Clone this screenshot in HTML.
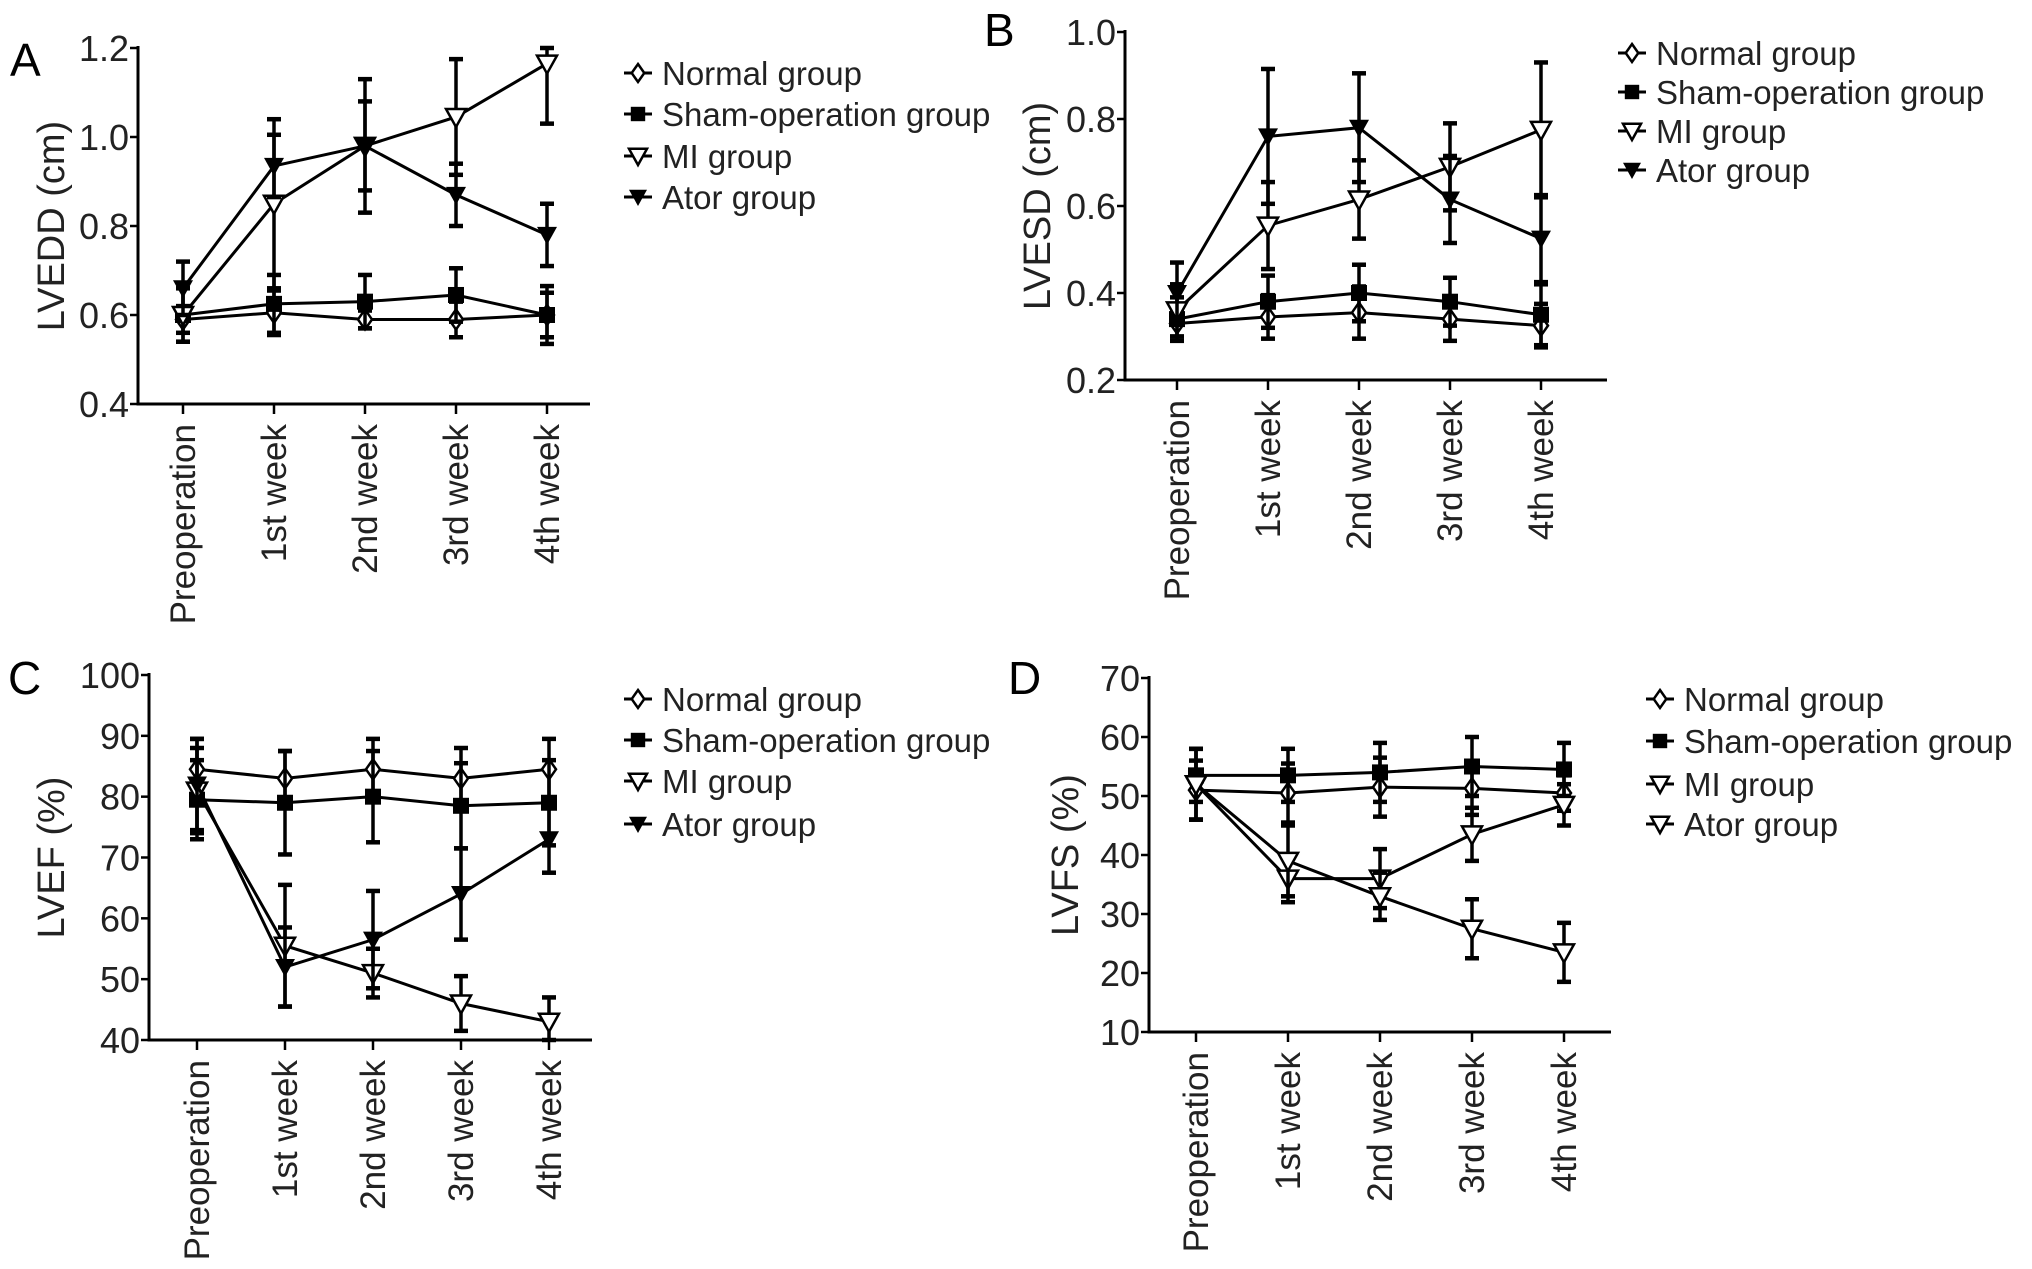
<!DOCTYPE html>
<html><head><meta charset="utf-8"><style>
html,body{margin:0;padding:0;background:#fff;}
svg{display:block;font-family:"Liberation Sans",Arial,sans-serif;}
</style></head><body>
<svg id="fig" width="2032" height="1269" viewBox="0 0 2032 1269" xmlns="http://www.w3.org/2000/svg"></svg>
<script>
const categories = ["Preoperation","1st week","2nd week","3rd week","4th week"];
const seriesNames = ["Normal group","Sham-operation group","MI group","Ator group"];
// Panel A LVEDD
const aNormal=[0.59,0.605,0.59,0.59,0.60], aNormalErr=[0.03,0.05,0.02,0.04,0.05];
const aSham=[0.60,0.625,0.63,0.645,0.60], aShamErr=[0.06,0.065,0.06,0.06,0.065];
const aMI=[0.60,0.85,0.98,1.045,1.165], aMIErr=[0.06,0.19,0.15,0.13,0.135];
const aAtor=[0.66,0.935,0.98,0.87,0.78], aAtorErr=[0.06,0.07,0.10,0.07,0.07];
const aTicks=[0.4,0.6,0.8,1.0,1.2];
// Panel B LVESD
const bNormal=[0.33,0.345,0.355,0.34,0.325], bNormalErr=[0.03,0.05,0.06,0.05,0.05];
const bSham=[0.34,0.38,0.40,0.38,0.35], bShamErr=[0.05,0.06,0.065,0.055,0.07];
const bMI=[0.36,0.555,0.615,0.69,0.775], bMIErr=[0.06,0.10,0.09,0.10,0.155];
const bAtor=[0.40,0.76,0.78,0.615,0.525], bAtorErr=[0.07,0.155,0.125,0.10,0.10];
const bTicks=[0.2,0.4,0.6,0.8,1.0];
// Panel C LVEF
const cNormal=[84.5,83,84.5,83,84.5], cNormalErr=[5,4.5,5,5,5];
const cSham=[79.5,79,80,78.5,79], cShamErr=[6.5,8.5,7.5,7,7];
const cMI=[81,55.5,51,46,43], cMIErr=[7,10,4,4.5,4];
const cAtor=[82,52,56.5,64,73], cAtorErr=[7.5,6.5,8,7.5,5.5];
const cTicks=[40,50,60,70,80,90,100];
// Panel D LVFS
const dNormal=[51,50.5,51.5,51.3,50.5], dNormalErr=[5,5,5,4.5,3];
const dSham=[53.5,53.5,54,55,54.5], dShamErr=[4.5,4.5,5,5,4.5];
const dMI=[52,36,36,43.5,48.5], dMIErr=[6,4,5,4.5,3.5];
const dAtor=[52,39,33,27.5,23.5], dAtorErr=[6,6,4,5,5];
const dTicks=[10,20,30,40,50,60,70];

const NS="http://www.w3.org/2000/svg";
const svg=document.getElementById('fig');
function el(tag,attrs,parent){const e=document.createElementNS(NS,tag);for(const k in attrs)e.setAttribute(k,attrs[k]);(parent||svg).appendChild(e);return e;}

function marker(g,type,x,y,s){
  let m;
  if(type==='diamond'){m=el('path',{d:`M${x} ${y-s}L${x+s*0.7} ${y}L${x} ${y+s}L${x-s*0.7} ${y}Z`,fill:'#fff',stroke:'#000','stroke-width':2.5},g);}
  else if(type==='square'){m=el('rect',{x:x-s*0.8,y:y-s*0.8,width:s*1.6,height:s*1.6,fill:'#000'},g);}
  else if(type==='tri-open'){m=el('path',{d:`M${x-s} ${y-s*0.8}L${x+s} ${y-s*0.8}L${x} ${y+s}Z`,fill:'#fff',stroke:'#000','stroke-width':2.5},g);}
  else {m=el('path',{d:`M${x-s} ${y-s*0.8}L${x+s} ${y-s*0.8}L${x} ${y+s}Z`,fill:'#000'},g);}
  return m;
}

function panel(cfg){
  const g=el('g',{});
  
  
  const {x0,x1,y0,y1,ymin,ymax,cats}=cfg;
  const ys=v=>y1+(v-ymin)/(ymax-ymin)*(y0-y1);
  const clampY=v=>Math.max(y0,Math.min(y1,ys(v)));
  const xs=i=>cats[0]+i*(cats[1]-cats[0]);
  const L=el('text',{x:cfg.letter[0],y:cfg.letter[1],'font-size':46,fill:'#000'},g);L.textContent=cfg.letterText;
  
  const ya=el('line',{x1:x0,y1:y0-2,x2:x0,y2:y1+1.5,stroke:'#000','stroke-width':3},g);
  
  const xa=el('line',{x1:x0-1.5,y1:y1,x2:x1,y2:y1,stroke:'#000','stroke-width':3},g);
  
  cfg.ticks.forEach(t=>{
    const y=ys(t);
    el('line',{x1:x0-8,y1:y,x2:x0,y2:y,stroke:'#000','stroke-width':2.5},g);
    const tx=el('text',{x:x0-9,y:y+13,'font-size':36,'text-anchor':'end',fill:'#222'},g);
    tx.textContent=cfg.fmt(t);
    
  });
  categories.forEach((c,i)=>{
    const x=xs(i);
    el('line',{x1:x,y1:y1,x2:x,y2:y1+10,stroke:'#000','stroke-width':2.5},g);
    const tx=el('text',{x:0,y:0,'font-size':35,'text-anchor':'end',fill:'#222',transform:`translate(${x+12},${y1+20}) rotate(-90)`},g);
    tx.textContent=c;
    
  });
  const ti=el('text',{x:0,y:0,'font-size':38,'text-anchor':'middle',fill:'#222',transform:`translate(${cfg.titleX},${(y0+y1)/2}) rotate(-90)`},g);
  ti.textContent=cfg.title;
  cfg.series.forEach((s,si)=>{
    const sg=el('g',{},g);
    
    s.err.forEach((e,i)=>{
      const x=xs(i),yt=clampY(s.vals[i]+e),yb=clampY(s.vals[i]-e);
      el('line',{x1:x,y1:yt,x2:x,y2:yb,stroke:'#000','stroke-width':3.5},sg);
      el('line',{x1:x-7,y1:yt,x2:x+7,y2:yt,stroke:'#000','stroke-width':4.5},sg);
      el('line',{x1:x-7,y1:yb,x2:x+7,y2:yb,stroke:'#000','stroke-width':4.5},sg);
    });
    const pts=s.vals.map((v,i)=>xs(i)+','+ys(v)).join(' ');
    const pl=el('polyline',{points:pts,fill:'none',stroke:'#000','stroke-width':3},sg);
    
    s.vals.forEach((v,i)=>{const m=marker(sg,s.type,xs(i),ys(v),10);
      });
  });
  const lg=el('g',{},g);
  seriesNames.forEach((n,i)=>{
    const y=cfg.legY[i];
    const eg=el('g',{},lg);
    el('line',{x1:cfg.legX-14,y1:y,x2:cfg.legX+14,y2:y,stroke:'#000','stroke-width':3},eg);
    marker(eg,cfg.series[i].type,cfg.legX,y,9);
    const t=el('text',{x:cfg.legX+24,y:y+12,'font-size':33,fill:'#222'},eg);t.textContent=n;
  });
}
const f1=t=>t.toFixed(1), f0=t=>String(t);
panel({name:'panel-a',letterText:'A',letter:[10,76],x0:138,x1:590,y0:48,y1:404,ymin:0.4,ymax:1.2,cats:[183,274],ticks:aTicks,fmt:f1,title:'LVEDD (cm)',titleX:64,
  legX:638,legY:[73,114,156,197],
  series:[{vals:aNormal,err:aNormalErr,type:'diamond'},{vals:aSham,err:aShamErr,type:'square'},{vals:aMI,err:aMIErr,type:'tri-open'},{vals:aAtor,err:aAtorErr,type:'tri-fill'}]});
panel({name:'panel-b',letterText:'B',letter:[984,46],x0:1125,x1:1607,y0:32,y1:380,ymin:0.2,ymax:1.0,cats:[1177,1268],ticks:bTicks,fmt:f1,title:'LVESD (cm)',titleX:1050,
  legX:1632,legY:[53,92,131,170],
  series:[{vals:bNormal,err:bNormalErr,type:'diamond'},{vals:bSham,err:bShamErr,type:'square'},{vals:bMI,err:bMIErr,type:'tri-open'},{vals:bAtor,err:bAtorErr,type:'tri-fill'}]});
panel({name:'panel-c',letterText:'C',letter:[8,694],x0:149,x1:592,y0:675,y1:1040,ymin:40,ymax:100,cats:[197,285],ticks:cTicks,fmt:f0,title:'LVEF (%)',titleX:64,
  legX:638,legY:[699,740,781,824],
  series:[{vals:cNormal,err:cNormalErr,type:'diamond'},{vals:cSham,err:cShamErr,type:'square'},{vals:cMI,err:cMIErr,type:'tri-open'},{vals:cAtor,err:cAtorErr,type:'tri-fill'}]});
panel({name:'panel-d',letterText:'D',letter:[1008,694],x0:1149,x1:1611,y0:678,y1:1032,ymin:10,ymax:70,cats:[1196,1288],ticks:dTicks,fmt:f0,title:'LVFS (%)',titleX:1078,
  legX:1660,legY:[699,741,784,824],
  series:[{vals:dNormal,err:dNormalErr,type:'diamond'},{vals:dSham,err:dShamErr,type:'square'},{vals:dMI,err:dMIErr,type:'tri-open'},{vals:dAtor,err:dAtorErr,type:'tri-open'}]});
</script>
</body></html>
